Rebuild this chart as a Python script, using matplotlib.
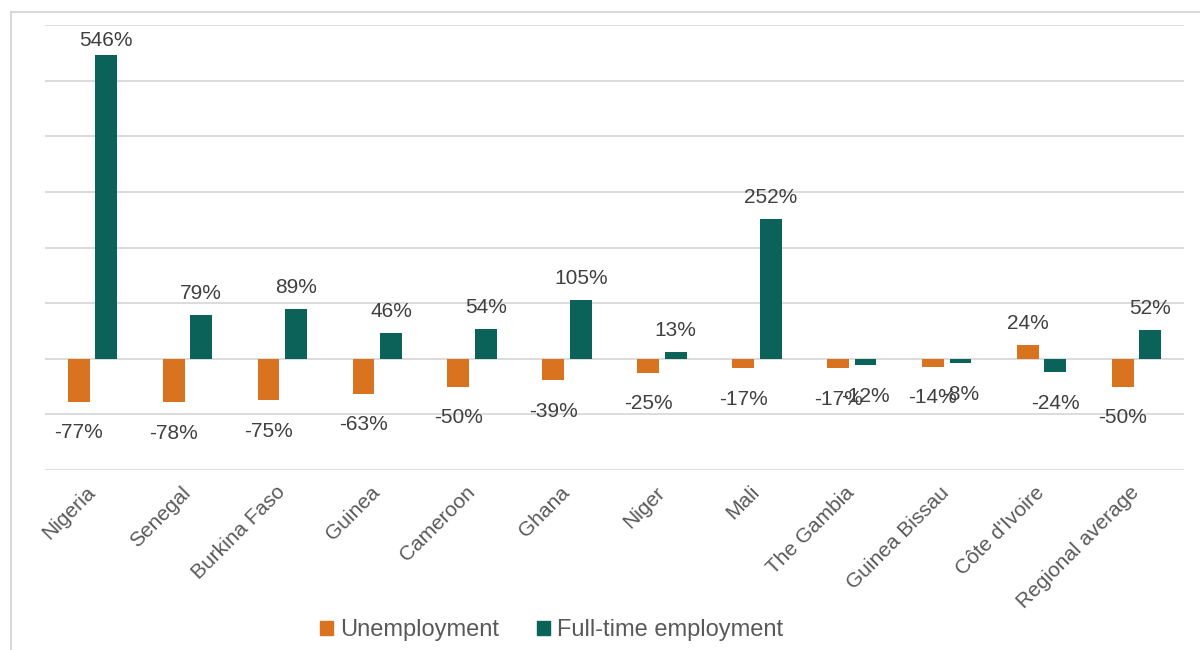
import matplotlib.pyplot as plt
import numpy as np
from matplotlib.patches import Patch, Rectangle

plt.rcParams['font.family'] = ['Liberation Sans', 'DejaVu Sans']

countries = ["Nigeria", "Senegal", "Burkina Faso", "Guinea", "Cameroon", "Ghana",
             "Niger", "Mali", "The Gambia", "Guinea Bissau", "Côte d'Ivoire",
             "Regional average"]
unemployment = [-77, -78, -75, -63, -50, -39, -25, -17, -17, -14, 24, -50]
fulltime = [546, 79, 89, 46, 54, 105, 13, 252, -12, -8, -24, 52]

orange = '#DA7320'
green = '#0B6259'
label_col = '#404040'
axis_col = '#595959'
grid_col = '#D9D9D9'

fig = plt.figure(figsize=(12, 6.5), dpi=100)
ax_h = 445  # axes height in px
ax = fig.add_axes([45 / 1200, 1 - 470 / 650, 1139 / 1200, ax_h / 650])

ymin, ymax = -200, 600
px_per_unit = ax_h / (ymax - ymin)

x = np.arange(len(countries))
w = 0.23
off = 0.145
b1 = ax.bar(x - off, unemployment, w, color=orange, zorder=3)
b2 = ax.bar(x + off, fulltime, w, color=green, zorder=3)

# value labels: above positive bars, below negative ones
for bars, vals in ((b1, unemployment), (b2, fulltime)):
    for rect, v in zip(bars, vals):
        cx = rect.get_x() + rect.get_width() / 2
        if v >= 0:
            # keep the label inside the plot area for very tall bars
            room = (ymax - v) * px_per_unit - 21
            gap = min(16, room)
            ax.annotate(f"{v}%", (cx, v), xytext=(0, gap * 0.72), textcoords='offset points',
                        ha='center', va='baseline', fontsize=15, color=label_col)
        else:
            ax.annotate(f"{v}%", (cx, v), xytext=(0, -15.5), textcoords='offset points',
                        ha='center', va='top', fontsize=15, color=label_col)

ax.set_xlim(-0.5, len(countries) - 0.5)
ax.set_ylim(ymin, ymax)
ax.set_yticks(np.arange(ymin, ymax + 1, 100))
ax.set_yticklabels([])
ax.grid(axis='y', color=grid_col, linewidth=1.3, zorder=0)
ax.tick_params(axis='both', length=0)
for s in ax.spines.values():
    s.set_visible(False)

ax.set_xticks(x)
ax.set_xticklabels(countries, rotation=45, ha='right', va='center',
                   rotation_mode='anchor', fontsize=15, color=axis_col)
ax.tick_params(axis='x', pad=14)

handles = [Patch(color=orange, label='Unemployment'),
           Patch(color=green, label='Full-time employment')]
fig.legend(handles=handles, loc='center', bbox_to_anchor=(552 / 1200, 1 - 630 / 650),
           ncol=2, frameon=False, fontsize=17, handlelength=0.55, handleheight=0.55,
           handletextpad=0.3, columnspacing=1.6, labelcolor=axis_col)

# chart area outline
fig.patches.append(Rectangle((11 / 1200, -0.1), 1.2, 1.1 - 12 / 650,
                             transform=fig.transFigure, fill=False,
                             edgecolor=grid_col, linewidth=1.5))

fig.savefig('out.png', dpi=100, facecolor='white')
